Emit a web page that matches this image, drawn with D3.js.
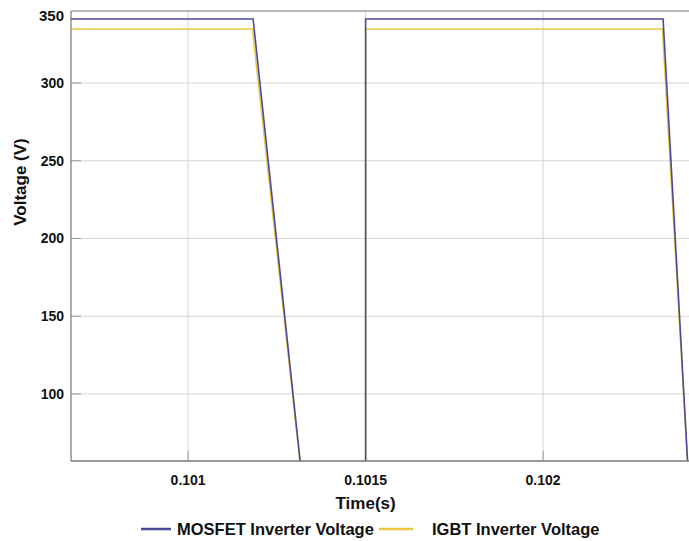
<!DOCTYPE html>
<html>
<head>
<meta charset="utf-8">
<script src="https://cdn.jsdelivr.net/npm/d3@7"></script>
<style>
  body { margin: 0; background: #fff; }
  svg { display: block; font-family: "Liberation Sans", Arial, sans-serif; }
  .tick-label { font-weight: bold; font-size: 14px; fill: #111; }
  .axis-title { font-weight: bold; font-size: 17px; fill: #111; }
  .legend-label { font-weight: bold; font-size: 16.5px; fill: #111; }
</style>
</head>
<body>
<svg id="chart" width="689" height="541"></svg>
<script>
// Time axis (s) and voltages (V)
const mosfetTime = [0.10067, 0.101183, 0.101342, 0.1015, 0.1015, 0.102338, 0.102411];
const mosfetVolt = [341.2, 341.2, 0, 0, 341.2, 341.2, 40];
const igbtTime = [0.10067, 0.101181, 0.101342, 0.1015, 0.1015, 0.102336, 0.102411];
const igbtVolt = [334.7, 334.7, 0, 0, 334.7, 334.7, 40];

const xTicks = [0.101, 0.1015, 0.102];
const xTickLabels = ["0.101", "0.1015", "0.102"];
const yTicks = [100, 150, 200, 250, 300, 350];

const seriesNames = ["MOSFET Inverter Voltage", "IGBT Inverter Voltage"];
const seriesColors = ["#4a4a9c", "#ebc63e"];

const margin = { left: 71, top: 11, right: 0, bottom: 80 };
const width = 689, height = 541;

const svg = d3.select("#chart");

const x = d3.scaleLinear()
    .domain([0.10067, 0.102411])
    .range([margin.left, width - margin.right]);

const y = d3.scaleLinear()
    .domain([56.9, 346.3])
    .range([height - margin.bottom, margin.top])
    .clamp(true);

const plotTop = margin.top, plotBottom = height - margin.bottom;
const plotLeft = margin.left, plotRight = width - margin.right;

// Grid lines
svg.append("g")
    .selectAll("line")
    .data(xTicks)
    .enter().append("line")
    .attr("x1", d => x(d)).attr("x2", d => x(d))
    .attr("y1", plotTop).attr("y2", plotBottom)
    .attr("stroke", "#d6d6d6").attr("stroke-width", 1);

svg.append("g")
    .selectAll("line")
    .data(yTicks.filter(d => d < 346))
    .enter().append("line")
    .attr("x1", plotLeft).attr("x2", plotRight)
    .attr("y1", d => y(d)).attr("y2", d => y(d))
    .attr("stroke", "#d6d6d6").attr("stroke-width", 1);

// Inward tick marks
svg.append("g")
    .selectAll("line")
    .data(xTicks)
    .enter().append("line")
    .attr("x1", d => x(d)).attr("x2", d => x(d))
    .attr("y1", plotBottom).attr("y2", plotBottom - 10)
    .attr("stroke", "#999");

svg.append("g")
    .selectAll("line")
    .data(yTicks.filter(d => d < 346))
    .enter().append("line")
    .attr("x1", plotLeft).attr("x2", plotLeft + 10)
    .attr("y1", d => y(d)).attr("y2", d => y(d))
    .attr("stroke", "#999");

// Clip for data lines
svg.append("clipPath").attr("id", "plot-clip")
    .append("rect")
    .attr("x", plotLeft).attr("y", plotTop)
    .attr("width", plotRight - plotLeft).attr("height", plotBottom - plotTop);

// unclamped copy so the falling edges keep their slope below the axis
const yLine = y.copy().clamp(false);
const line = d3.line()
    .x(d => x(d[0]))
    .y(d => yLine(d[1]));

const lines = svg.append("g").attr("clip-path", "url(#plot-clip)");

lines.append("path")
    .datum(igbtTime.map((t, i) => [t, igbtVolt[i]]))
    .attr("fill", "none")
    .attr("stroke", seriesColors[1])
    .attr("stroke-width", 1.5)
    .attr("d", line);

lines.append("path")
    .datum(mosfetTime.map((t, i) => [t, mosfetVolt[i]]))
    .attr("fill", "none")
    .attr("stroke", seriesColors[0])
    .attr("stroke-width", 1.6)
    .attr("d", line);

// Axis frame: left, bottom, top
svg.append("line")
    .attr("x1", plotLeft).attr("x2", plotLeft)
    .attr("y1", plotTop).attr("y2", plotBottom)
    .attr("stroke", "#777").attr("stroke-width", 1.2);
svg.append("line")
    .attr("x1", plotLeft).attr("x2", plotRight)
    .attr("y1", plotBottom).attr("y2", plotBottom)
    .attr("stroke", "#777").attr("stroke-width", 1.5);
svg.append("line")
    .attr("x1", plotLeft).attr("x2", plotRight)
    .attr("y1", plotTop).attr("y2", plotTop)
    .attr("stroke", "#777").attr("stroke-width", 1.2);

// Tick labels
svg.append("g")
    .selectAll("text")
    .data(xTicks)
    .enter().append("text")
    .attr("class", "tick-label")
    .attr("x", d => x(d))
    .attr("y", plotBottom + 19)
    .attr("dy", "0.35em")
    .attr("text-anchor", "middle")
    .text((d, i) => xTickLabels[i]);

svg.append("g")
    .selectAll("text")
    .data(yTicks)
    .enter().append("text")
    .attr("class", "tick-label")
    .attr("x", plotLeft - 7)
    .attr("y", d => y(d) + (y(d) <= plotTop ? 5 : 0))
    .attr("dy", "0.35em")
    .attr("text-anchor", "end")
    .style("font-size", d => d === 350 ? "15px" : null)
    .text(d => d);

// Axis titles
svg.append("text")
    .attr("class", "axis-title")
    .attr("x", x(0.1015))
    .attr("y", 503)
    .attr("dy", "0.35em")
    .attr("text-anchor", "middle")
    .text("Time(s)");

svg.append("text")
    .attr("class", "axis-title")
    .attr("transform", "translate(20, 182) rotate(-90)")
    .attr("dy", "0.35em")
    .attr("text-anchor", "middle")
    .text("Voltage (V)");

// Legend
const legendItems = [
    { x1: 141, x2: 171, tx: 177 },
    { x1: 379, x2: 413, tx: 432 }
];
const legend = svg.append("g");
legendItems.forEach((item, i) => {
    legend.append("line")
        .attr("x1", item.x1).attr("x2", item.x2)
        .attr("y1", 529).attr("y2", 529)
        .attr("stroke", seriesColors[i]).attr("stroke-width", 2.5);
    legend.append("text")
        .attr("class", "legend-label")
        .attr("x", item.tx)
        .attr("y", 529)
        .attr("dy", "0.35em")
        .text(seriesNames[i]);
});
</script>
</body>
</html>
